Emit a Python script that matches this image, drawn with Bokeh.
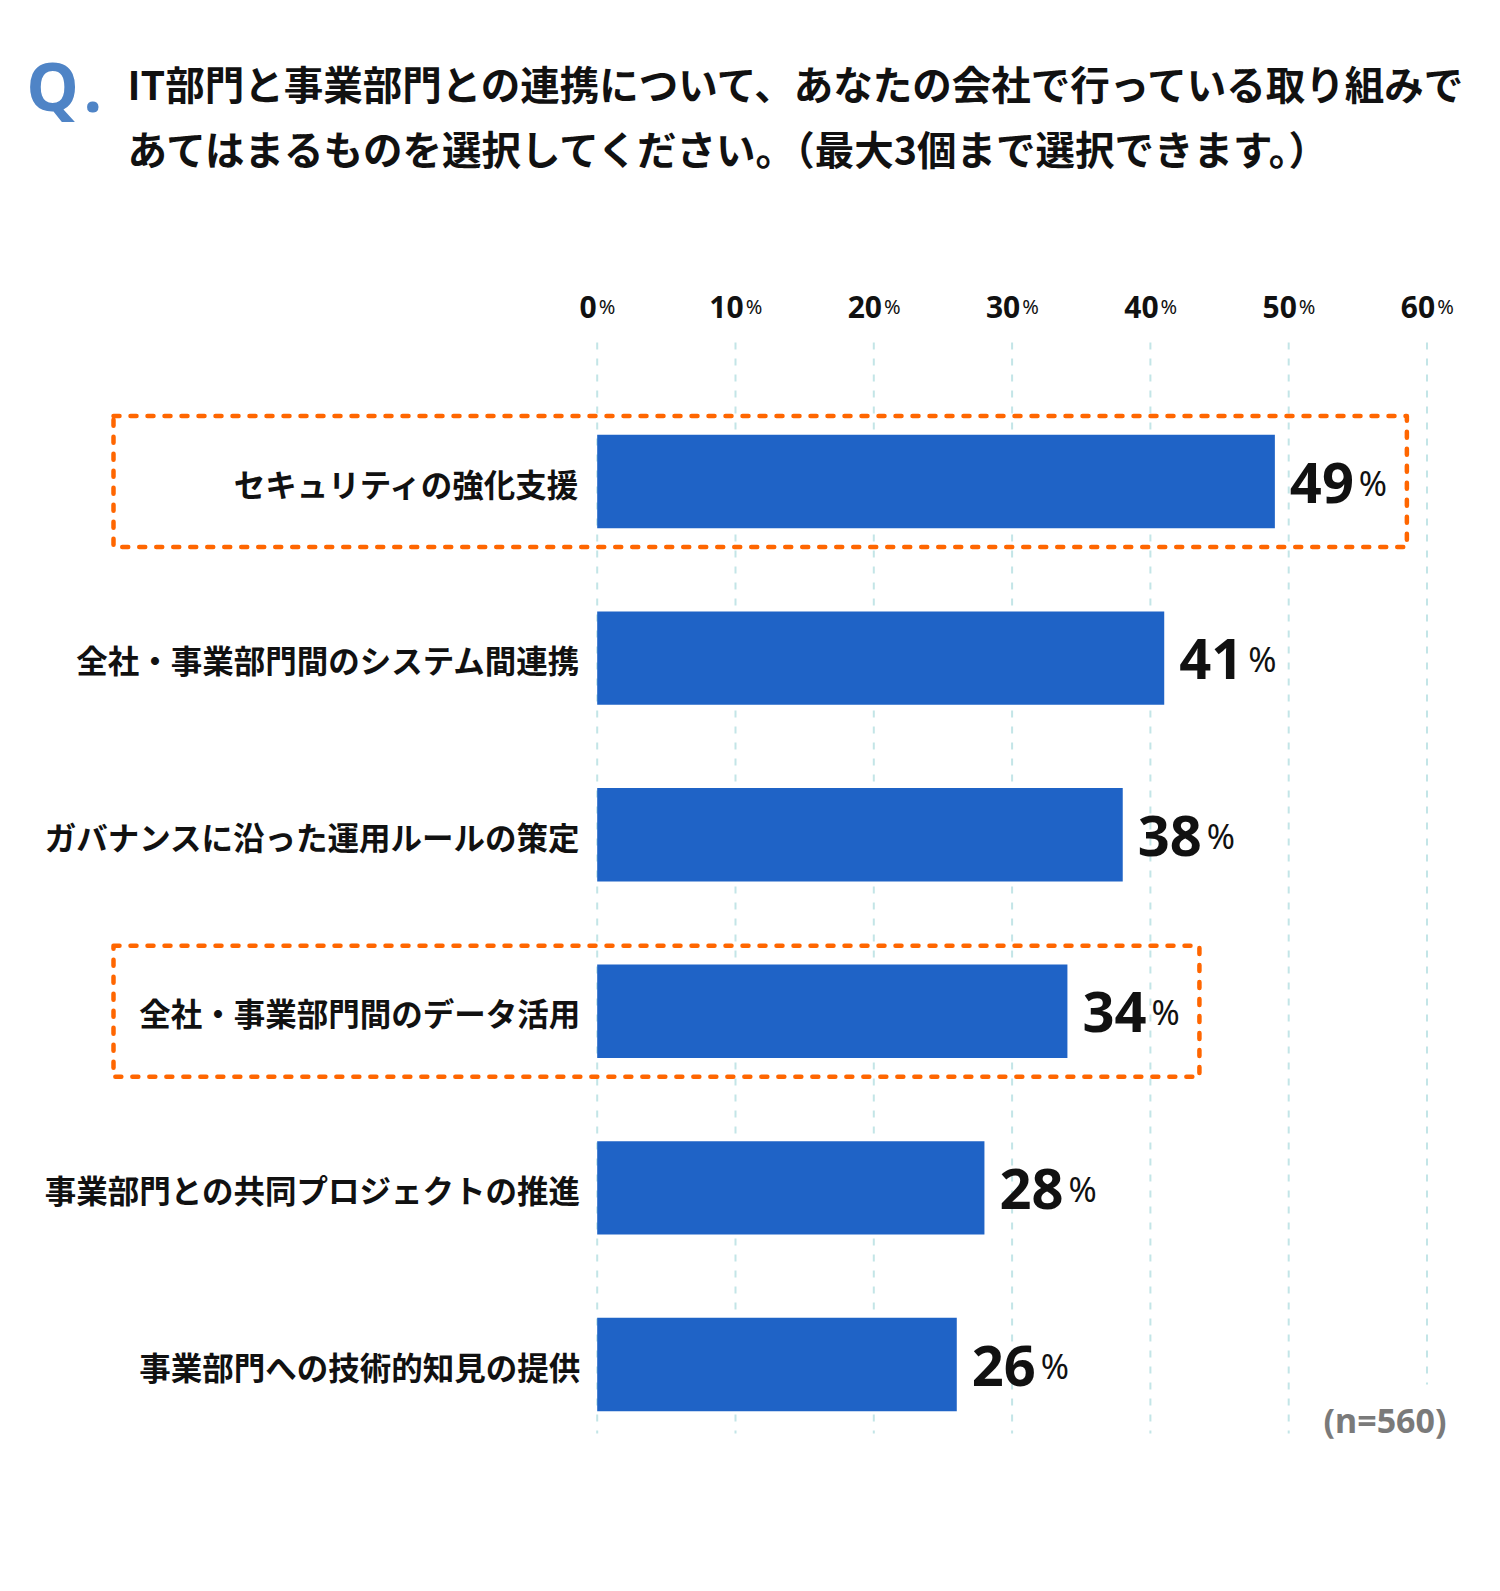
from bokeh.plotting import figure
from bokeh.models import Range1d, Label
from bokeh.embed import file_html
from bokeh.resources import INLINE
from bokeh.core.properties import value

# ---------------- data ----------------
categories = [
    "セキュリティの強化支援",
    "全社・事業部門間のシステム間連携",
    "ガバナンスに沿った運用ルールの策定",
    "全社・事業部門間のデータ活用",
    "事業部門との共同プロジェクトの推進",
    "事業部門への技術的知見の提供",
]
values = [49, 41, 38, 34, 28, 26]
highlighted = [True, False, False, True, False, False]
ticks = [0, 10, 20, 30, 40, 50, 60]
tick_labels = ["0", "10", "20", "30", "40", "50", "60"]
title_lines = [
    "IT部門と事業部門との連携について、あなたの会社で行っている取り組みで",
    "あてはまるものを選択してください。（最大3個まで選択できます。）",
]
note = "(n=560)"

# ---------------- layout ----------------
W, H = 1484, 1575
PX = 13.83          # pixels per percent
X0C = 596.7         # page x of 0 %
ROW = 176.6         # pixels per row
Y0C = 481.0         # page y of first row centre


def dx(page_x):
    return (page_x - X0C) / PX


def dy(page_y):
    return (page_y - Y0C) / ROW


JP = value("Noto Sans CJK JP")
LAT = value("Noto Sans")
BAR = "#1f63c6"
ORANGE = "#ff6600"
GRID = "#c3e5e7"
Q_BLUE = "#4f84c6"

p = figure(width=W, height=H, output_backend="svg", toolbar_location=None,
           x_range=Range1d(dx(0), dx(W)), y_range=Range1d(dy(H), dy(0)),
           min_border=0, outline_line_color=None)
p.axis.visible = False
p.grid.visible = False
p.background_fill_color = "white"
p.border_fill_color = "white"

rows = list(range(len(categories)))

# grid lines
p.segment(x0=ticks, x1=ticks, y0=[dy(342)] * len(ticks), y1=[dy(1433)] * len(ticks),
          line_color=GRID, line_width=2, line_dash="7 9")

# bars
p.hbar(y=rows, left=0, right=values, height=93.4 / ROW, fill_color=BAR, line_color=None)

# highlight boxes
hi_rows = [r for r, h in zip(rows, highlighted) if h]
hi_vals = [v for v, h in zip(values, highlighted) if h]
half = 131 / 2 / ROW
p.quad(left=[dx(113)] * len(hi_rows), right=[v + 132 / PX for v in hi_vals],
       top=[r - half for r in hi_rows], bottom=[r + half for r in hi_rows],
       fill_color=None, line_color=ORANGE, line_width=4.5, line_dash="6 11",
       line_cap="round", line_join="round")

# category labels
p.text(x=[0] * len(rows), y=rows, text=categories, x_offset=-17, y_offset=1,
       text_align="right", text_baseline="middle", text_font=JP,
       text_font_style="bold", text_font_size="31.5px", text_color="#111111")

# value labels
p.text(x=values, y=rows, text=[str(v) for v in values], x_offset=15, y_offset=1,
       text_align="left", text_baseline="alphabetic", text_font=LAT,
       text_font_style="bold", text_font_size="56px", text_color="#111111")
p.text(x=values, y=rows, text=["%"] * len(values), x_offset=84, y_offset=1,
       text_align="left", text_baseline="alphabetic", text_font=LAT,
       text_font_size="34px", text_color="#111111")

# tick labels
dig = 0.572 * 30
pw = 0.8 * 20
gap = 2
num_off = [(len(t) * dig + gap + pw) / 2 - pw - gap for t in tick_labels]
pct_off = [o + gap for o in num_off]
ty = [dy(306)] * len(ticks)
p.text(x=ticks, y=ty, text=tick_labels, x_offset=num_off, text_align="right",
       text_baseline="alphabetic", text_font=LAT, text_font_style="bold",
       text_font_size="30px", text_color="#111111")
p.text(x=ticks, y=ty, text=["%"] * len(ticks), x_offset=pct_off, text_align="left",
       text_baseline="alphabetic", text_font=LAT, text_font_size="20px",
       text_color="#111111")

# title
p.text(x=[dx(26)], y=[dy(84)], text=["Q"], text_align="left", text_baseline="middle",
       text_font=LAT, text_font_style="bold", text_font_size="66px", text_color=Q_BLUE)
p.text(x=[dx(83)], y=[dy(87)], text=["."], text_align="left", text_baseline="middle",
       text_font=LAT, text_font_style="bold", text_font_size="66px", text_color=Q_BLUE)
p.text(x=[dx(127)] * 2, y=[dy(82), dy(147)], text=title_lines, text_align="left",
       text_baseline="middle", text_font=JP, text_font_style="bold",
       text_font_size="39.5px", text_color="#111111")

# note with white background covering the grid
note_lbl = Label(x=dx(1458), y=dy(1419), text=note, text_align="right",
                 text_baseline="middle", text_font="Noto Sans", text_font_style="bold",
                 text_font_size="34px", text_color="#7a7a7a",
                 background_fill_color="white", padding=12)
p.add_layout(note_lbl)

open("out.html", "w").write(file_html(p, INLINE))
